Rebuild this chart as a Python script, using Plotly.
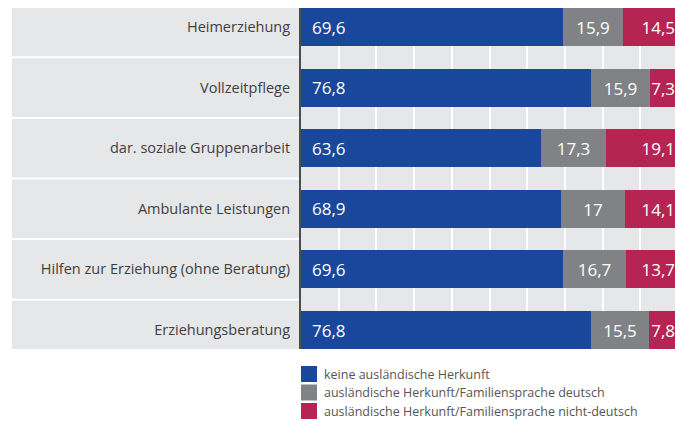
import plotly.graph_objects as go

# Data
categories = [
    "Heimerziehung",
    "Vollzeitpflege",
    "dar. soziale Gruppenarbeit",
    "Ambulante Leistungen",
    "Hilfen zur Erziehung (ohne Beratung)",
    "Erziehungsberatung",
]
keine = [69.6, 76.8, 63.6, 68.9, 69.6, 76.8]
deutsch = [15.9, 15.9, 17.3, 17.0, 16.7, 15.5]
nicht_deutsch = [14.5, 7.3, 19.1, 14.1, 13.7, 7.8]
series_names = [
    "keine ausländische Herkunft",
    "ausländische Herkunft/Familiensprache deutsch",
    "ausländische Herkunft/Familiensprache nicht-deutsch",
]

BLUE = "#19479b"
GRAY = "#808285"
RED = "#b52453"
BG = "#e6e7e8"
FONT = "Open Sans"

W, H = 675, 421
L, R, T, B = 301, 0, 8, 72
BAR_W = 0.627


def fmt(v):
    return f"{v:g}".replace(".", ",")


def px_x(x):
    return (x - L) / (W - L - R)


def px_y(y):
    return (H - B - y) / (H - T - B)


fig = go.Figure()
fig.add_trace(go.Bar(y=categories, x=keine, orientation="h", name=series_names[0],
                     marker=dict(color=BLUE, line=dict(width=0)), width=BAR_W,
                     hoverinfo="x+name"))
fig.add_trace(go.Bar(y=categories, x=deutsch, orientation="h", name=series_names[1],
                     marker=dict(color=GRAY, line=dict(width=0)), width=BAR_W,
                     text=[fmt(v) for v in deutsch], textposition="inside",
                     insidetextanchor="middle", textangle=0,
                     textfont=dict(color="white", size=17, family=FONT)))
fig.add_trace(go.Bar(y=categories, x=nicht_deutsch, orientation="h", name=series_names[2],
                     marker=dict(color=RED, line=dict(width=0)), width=BAR_W,
                     text=[fmt(v) for v in nicht_deutsch], textposition="inside",
                     insidetextanchor="end", textangle=0,
                     textfont=dict(color="white", size=17, family=FONT)))

# blue labels, left aligned inside the bar
for c, v in zip(categories, keine):
    fig.add_annotation(x=0, y=c, text=fmt(v), xanchor="left", xshift=9,
                       showarrow=False, font=dict(color="white", size=17, family=FONT))

# grey band behind the category labels with white separators
fig.add_shape(type="rect", xref="paper", yref="paper", x0=px_x(12), x1=0, y0=0, y1=1,
              fillcolor=BG, line=dict(width=0), layer="below")
for i in range(len(categories) - 1):
    fig.add_shape(type="line", xref="paper", yref="y", x0=px_x(12), x1=px_x(299),
                  y0=i + 0.5, y1=i + 0.5, line=dict(color="white", width=2), layer="below")

# custom legend
for i, (name, col) in enumerate(zip(series_names, [BLUE, GRAY, RED])):
    top = 366 + i * 18.5
    fig.add_shape(type="rect", xref="paper", yref="paper",
                  x0=px_x(301), x1=px_x(317), y0=px_y(top), y1=px_y(top + 16),
                  fillcolor=col, line=dict(width=0))
    fig.add_annotation(xref="paper", yref="paper", x=px_x(322), y=px_y(top + 8),
                       text=name, xanchor="left", yanchor="middle", showarrow=False,
                       font=dict(color="#555555", size=12.5, family=FONT))

fig.update_xaxes(
    range=[0, 99.2],
    showgrid=True,
    gridcolor="white",
    gridwidth=2,
    dtick=10,
    zeroline=False,
    showticklabels=False,
    fixedrange=True,
)
fig.update_yaxes(
    range=[len(categories) - 1 + BAR_W / 2, -BAR_W / 2],
    showgrid=False,
    showline=True,
    linecolor="#4d4d4d",
    linewidth=2,
    ticks="",
    ticklabelstandoff=6,
    tickfont=dict(color="#404040", size=14.5, family=FONT),
    fixedrange=True,
)
fig.update_layout(
    width=W,
    height=H,
    margin=dict(l=L, r=R, t=T, b=B),
    barmode="stack",
    bargap=0,
    plot_bgcolor=BG,
    paper_bgcolor="white",
    showlegend=False,
    uniformtext=dict(minsize=17, mode="show"),
    font=dict(family=FONT),
)
fig.write_html("out.html", config={"displayModeBar": False},
               post_script="document.body.style.margin='0';")
